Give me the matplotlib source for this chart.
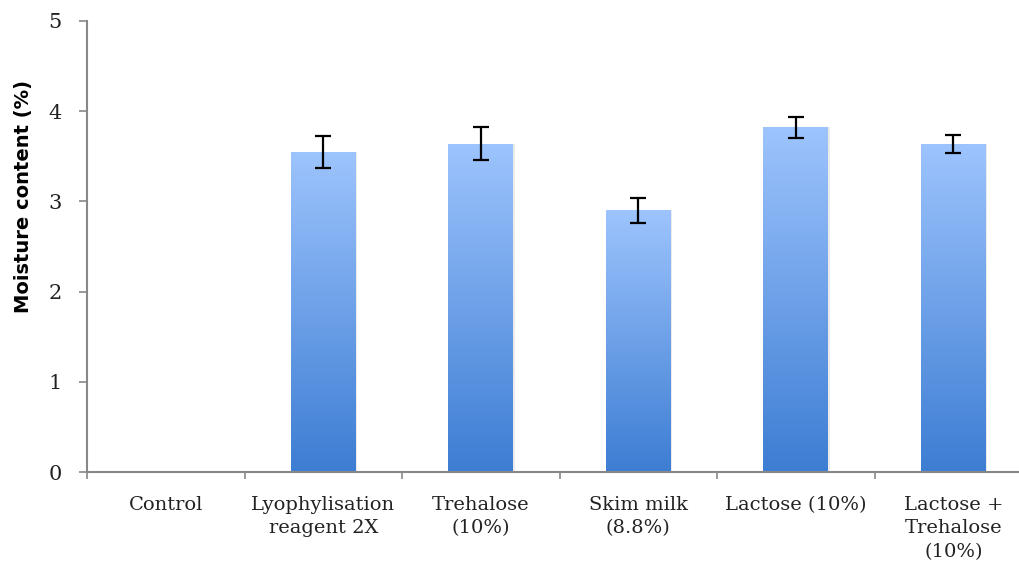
import matplotlib
matplotlib.use("Agg")
import matplotlib.pyplot as plt
import numpy as np
from matplotlib.colors import LinearSegmentedColormap

categories = ["Control", "Lyophylisation\nreagent 2X", "Trehalose\n(10%)",
              "Skim milk\n(8.8%)", "Lactose (10%)", "Lactose +\nTrehalose\n(10%)"]
moisture = [0.0, 3.55, 3.64, 2.90, 3.82, 3.64]
errors = [0.0, 0.18, 0.18, 0.14, 0.12, 0.10]

fig = plt.figure(figsize=(10.19, 5.61), dpi=100)
ax = fig.add_axes([87 / 1019, 89 / 561, 945 / 1019, 451 / 561])

x = np.arange(len(categories))
bars = ax.bar(x, moisture, width=0.41, color="none", edgecolor="none", zorder=2)

grad = LinearSegmentedColormap.from_list("bluegrad", ["#3d7dd3", "#9dc4fd"])
gvals = np.linspace(0, 1, 256).reshape(-1, 1)
for b in bars:
    h = b.get_height()
    if h <= 0:
        continue
    x0 = b.get_x()
    w = b.get_width()
    # soft shadow on the right side
    ax.add_patch(plt.Rectangle((x0 + 0.01, 0), w, h, color="#d8d8d8", alpha=0.5,
                               zorder=1, linewidth=0))
    im = ax.imshow(gvals, cmap=grad, origin="lower", aspect="auto",
                   extent=(x0, x0 + w, 0, h), zorder=2)
    im.set_clip_path(b)

idx = [i for i in range(len(categories)) if moisture[i] > 0]
ax.errorbar(x[idx], [moisture[i] for i in idx], yerr=[errors[i] for i in idx],
            fmt="none", ecolor="black", elinewidth=1.6, capsize=6, capthick=1.6, zorder=3)

ax.set_xlim(-0.5, len(categories) - 0.5)
ax.set_ylim(0, 5)
ax.set_yticks([0, 1, 2, 3, 4, 5])
ax.set_xticks(np.arange(len(categories) + 1) - 0.5, minor=False)
ax.set_xticklabels([])
ax.set_xticks(x, minor=True)
ax.set_xticklabels(categories, minor=True, fontsize=14, family="DejaVu Serif",
                   color="#222222", linespacing=1.4)
ax.tick_params(axis="x", which="minor", length=0, pad=17)
ax.tick_params(axis="x", which="major", length=5, color="#888888", width=1.2)
ax.tick_params(axis="y", length=6, color="#888888", width=1.2, labelsize=15, pad=12)
for lab in ax.get_yticklabels():
    lab.set_family("DejaVu Serif")
    lab.set_color("#222222")

for s in ["top", "right"]:
    ax.spines[s].set_visible(False)
for s in ["left", "bottom"]:
    ax.spines[s].set_color("#888888")
    ax.spines[s].set_linewidth(1.5)

ax.set_ylabel("Moisture content (%)", fontsize=14, fontweight="bold")
ax.yaxis.set_label_coords(-0.057, 0.61)

fig.savefig("out.png", dpi=100)
